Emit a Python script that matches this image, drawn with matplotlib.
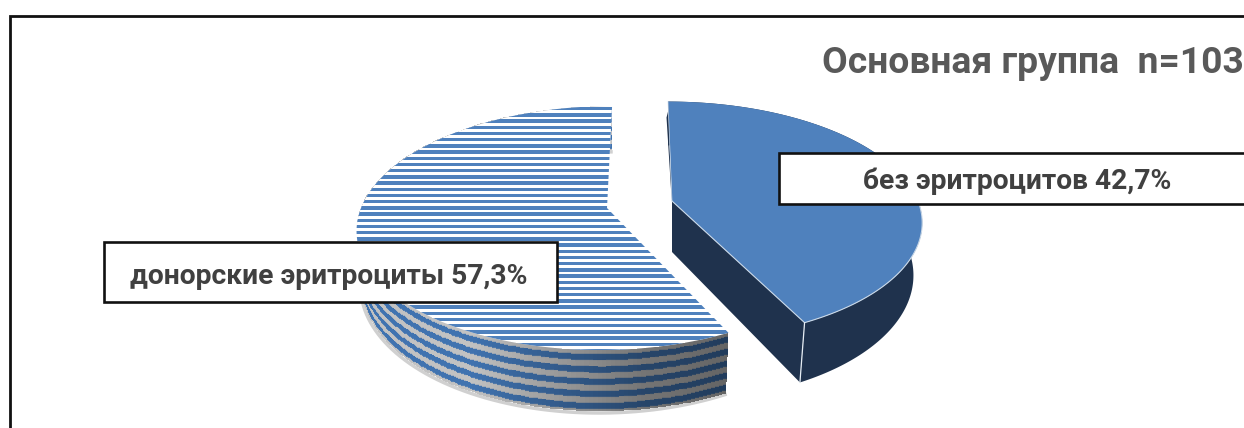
"""Exploded 3D pie for the main group, drawn on a pixel-sized canvas."""

import matplotlib

matplotlib.use("Agg")
import matplotlib.pyplot as plt
import numpy as np
from matplotlib.patches import Polygon, Rectangle

TITLE = "Основная группа  n=103"
LABELS = ["донорские эритроциты", "без эритроцитов"]
SHARES = [57.3, 42.7]

BLUE = "#4f81bd"
NAVY = "#1f324d"
TEXT_TITLE = "#595959"
TEXT_LABEL = "#404040"

# perspective of the disc
SEMI_X = 246.0
SEMI_Y = 118.7
TILT = 0.164
DEPTH = 51.0


def project(theta, apex, shear, squash=1.0):
    """Angle clockwise from 12 o'clock -> top rim position in canvas pixels."""
    u, v = np.sin(theta), -np.cos(theta)
    w = 1 - TILT * v
    dy = squash * SEMI_Y * v / w
    dx = SEMI_X * u / w + shear * dy
    return apex[0] + dx, apex[1] + dy, w


def side_colors(theta, stripes):
    """RGB cells of the outer wall, darker towards the right end of the slice."""
    t = np.linspace(0, 1, 71)
    tc = (t[:-1] + t[1:]) / 2
    shade = np.interp(theta, np.pi * np.array([0.855, 0.95, 1.05, 1.15]), [0.52, 0.6, 0.8, 1.0])
    shade = (shade[:-1] + shade[1:]) / 2
    grey = np.array([0.76, 0.76, 0.76])
    blue = np.array([0.25, 0.45, 0.69])
    rgb = np.zeros((len(tc), len(shade), 3))
    for i, tv in enumerate(tc):
        mix = 0.5 + 0.5 * np.sin(2 * np.pi * (tv * stripes - 0.35))
        mix = np.clip((mix - 0.35) * 3.5, 0, 1)
        base = grey * (1 - mix) + blue * mix
        rgb[i] = base[None, :] * shade[:, None]
    return t, rgb


fig = plt.figure(figsize=(12.44, 4.28), dpi=100)
ax = fig.add_axes([0, 0, 1, 1])
ax.set_xlim(0, 1244)
ax.set_ylim(428, 0)
ax.axis("off")

# chart frame runs off the right and bottom edges
ax.plot([10, 10, 1244], [428, 16, 16], color="#111111", lw=2.0, solid_joinstyle="miter")

sweep = 2 * np.pi * SHARES[0] / sum(SHARES)

# --- striped slice, going counterclockwise from 12 o'clock
apex_l = (607.0, 208.0)
shear_l = -0.05
theta_l = np.linspace(2 * np.pi - sweep, 2 * np.pi, 240)
xl, yl, wl = project(theta_l, apex_l, shear_l)

t, rgb = side_colors(theta_l, 5)
xs = apex_l[0] + (xl - apex_l[0])[None, :] * (1 - 0.02 * t[:, None])
ys = yl[None, :] + (DEPTH / wl)[None, :] * t[:, None]
ax.plot(xs[-1] - 1, ys[-1] + 2, color="#d0d0d0", lw=2.5, zorder=1)
ax.pcolormesh(xs, ys, rgb, shading="flat", antialiased=False, zorder=2)

top_l = np.column_stack([np.r_[apex_l[0], xl], np.r_[apex_l[1], yl]])
ax.add_patch(Polygon(top_l, closed=True, facecolor="white", edgecolor="none", zorder=3))
clip_l = Polygon(top_l, closed=True, transform=ax.transData)
for y0 in np.arange(yl.min() + 1.0, yl.max() + 6, 6.2):
    band = ax.fill_between([340, 760], y0, y0 + 3.4, color=BLUE, lw=0, zorder=4)
    band.set_clip_path(clip_l)

# --- solid slice, pulled out to the right
apex_r = (672.0, 201.0)
shear_r = 0.04
theta_r = np.linspace(0, 2 * np.pi - sweep, 200)
xr, yr, wr = project(theta_r, apex_r, shear_r, squash=0.975)
xb = apex_r[0] + (xr - apex_r[0]) * 0.965
yb = yr + DEPTH / wr

wall = np.column_stack([np.r_[xr, xb[::-1]], np.r_[yr, yb[::-1]]])
ax.add_patch(Polygon(wall, closed=True, facecolor=NAVY, edgecolor="none", zorder=2))
cut = [(apex_r[0], apex_r[1]), (xr[-1], yr[-1]), (xb[-1], yb[-1]), (apex_r[0], apex_r[1] + DEPTH)]
ax.add_patch(Polygon(cut, closed=True, facecolor=NAVY, edgecolor="none", zorder=2))
sliver = [(xr[0], yr[0] + 10), (apex_r[0], apex_r[1]), (apex_r[0] - 1, apex_r[1] - 12), (xr[0] - 1.5, yr[0] + 16)]
ax.add_patch(Polygon(sliver, closed=True, facecolor=NAVY, edgecolor="none", zorder=2))

top_r = np.column_stack([np.r_[apex_r[0], xr], np.r_[apex_r[1], yr]])
ax.add_patch(Polygon(top_r, closed=True, facecolor=BLUE, edgecolor="none", zorder=3))

# pale bevel along the top edges
ax.plot(xr[100:], yr[100:], color="#c9d8e8", lw=0.8, zorder=4)
ax.plot([apex_r[0], xr[-1]], [apex_r[1], yr[-1]], color="#c9d8e8", lw=0.8, zorder=4)
ax.plot([xr[-1], xb[-1]], [yr[-1], yb[-1]], color="#e6edf4", lw=0.9, zorder=4)
ax.plot([apex_r[0], xr[0]], [apex_r[1], yr[0]], color="#c9d8e8", lw=0.5, zorder=4)


def percent(value):
    return f"{value:.1f}".replace(".", ",") + "%"


# --- data labels
ax.add_patch(Rectangle((104, 242), 453, 60, facecolor="white", edgecolor="#111111", lw=1.9, zorder=5))
ax.add_patch(Rectangle((779, 153), 480, 51, facecolor="white", edgecolor="#111111", lw=1.9, zorder=5))
ax.text(329, 277, f"{LABELS[0]} {percent(SHARES[0])}", family="Roboto", fontweight="bold",
        fontsize=20.3, color=TEXT_LABEL, ha="center", va="center", zorder=6)
ax.text(1017.5, 181, f"{LABELS[1]} {percent(SHARES[1])}", family="Roboto", fontweight="bold",
        fontsize=20.3, color=TEXT_LABEL, ha="center", va="center", zorder=6)

ax.text(822, 63, TITLE, family="Roboto", fontweight="bold", fontsize=26.8,
        color=TEXT_TITLE, ha="left", va="center", zorder=6)

fig.savefig("out.png", dpi=100)
